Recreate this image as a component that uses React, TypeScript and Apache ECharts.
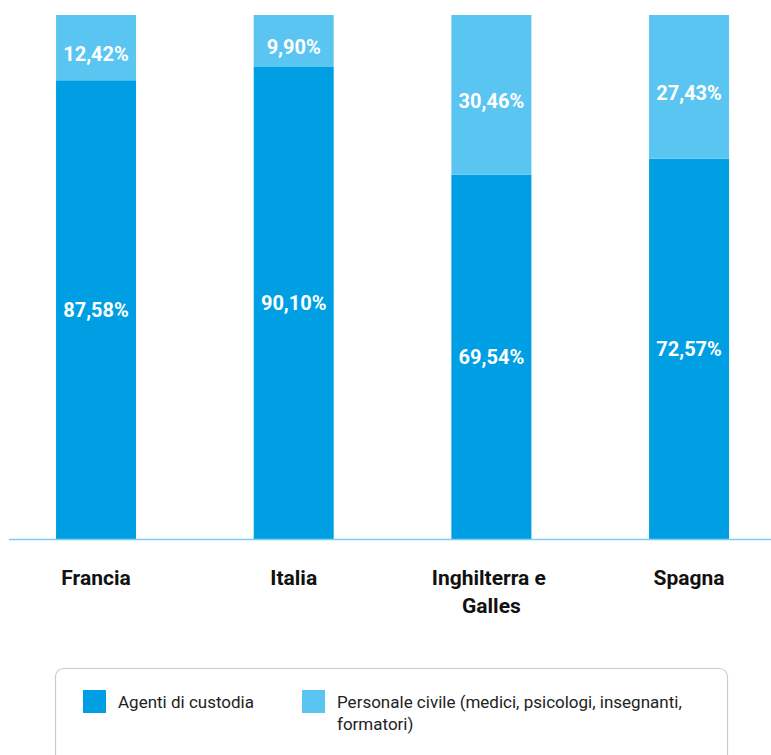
import React, { useEffect, useRef } from "react";
import * as echarts from "echarts";

const categories = ["Francia", "Italia", "Inghilterra e Galles", "Spagna"];
const agenti = [87.58, 90.1, 69.54, 72.57];
const personale = [12.42, 9.9, 30.46, 27.43];
const seriesNames = [
  "Agenti di custodia",
  "Personale civile (medici, psicologi, insegnanti, formatori)",
];
const colors = ["#009fe3", "#5bc5f2"];

const fmt = (v: number) => v.toFixed(2).replace(".", ",") + "%";

// the chart div is shifted left by SHIFT px inside a clipping wrapper
const SHIFT = 10;

export default function App() {
  const ref = useRef<HTMLDivElement>(null);
  useEffect(() => {
    if (!ref.current) return;
    const chart = echarts.init(ref.current, undefined, { renderer: "svg" });
    const labelBase = {
      show: true,
      position: "inside" as const,
      color: "#ffffff",
      fontFamily: "Roboto, sans-serif",
      fontWeight: "bold" as const,
      fontSize: 20,
      formatter: (p: any) => fmt(p.value),
    };
    chart.setOption({
      animation: false,
      grid: { left: SHIFT - 2.8, width: 790.7, top: 15, bottom: 215.5 },
      xAxis: {
        type: "category",
        data: categories,
        axisLine: { show: false },
        axisTick: { show: false },
        axisLabel: {
          color: "#111111",
          fontFamily: "Roboto, sans-serif",
          fontWeight: "bold",
          fontSize: 21,
          lineHeight: 28,
          margin: 24,
          width: 150,
          overflow: "break",
          interval: 0,
        },
      },
      yAxis: { type: "value", min: 0, max: 100, show: false },
      legend: [
        {
          data: [seriesNames[0]],
          left: 83 + SHIFT,
          top: 690,
          icon: "rect",
          itemWidth: 23,
          itemHeight: 23,
          padding: 0,
          textStyle: {
            color: "#222222",
            fontFamily: "Roboto, sans-serif",
            fontSize: 17,
            padding: [0, 0, 0, 7],
          },
        },
        {
          data: [seriesNames[1]],
          left: 302 + SHIFT,
          top: 668.5,
          icon: "rect",
          itemWidth: 23,
          itemHeight: 23,
          padding: 0,
          formatter: () =>
            " \nPersonale civile (medici, psicologi, insegnanti,\nformatori)",
          textStyle: {
            color: "#222222",
            fontFamily: "Roboto, sans-serif",
            fontSize: 17,
            lineHeight: 22,
            padding: [0, 0, 0, 7],
          },
        },
      ],
      graphic: [
        {
          type: "line",
          shape: { x1: 9 + SHIFT, y1: 539.5, x2: 771 + SHIFT, y2: 539.5 },
          style: { stroke: "#7ccdf2", lineWidth: 1.5 },
          z: 10,
        },
        {
          type: "rect",
          shape: { x: 55.5 + SHIFT, y: 668.5, width: 672, height: 130, r: 8 },
          style: { fill: "none", stroke: "#cccccc", lineWidth: 1.2 },
        },
      ],
      series: [
        {
          name: seriesNames[0],
          type: "bar",
          stack: "total",
          barWidth: 80,
          data: agenti,
          itemStyle: { color: colors[0] },
          label: labelBase,
        },
        {
          name: seriesNames[1],
          type: "bar",
          stack: "total",
          barWidth: 80,
          data: personale,
          itemStyle: { color: colors[1] },
          label: { ...labelBase, offset: [0, 6] },
        },
      ],
    });
    return () => chart.dispose();
  }, []);
  return (
    <div
      style={{
        position: "absolute",
        left: 0,
        top: 0,
        width: 771,
        height: 755,
        overflow: "hidden",
      }}
    >
      <div
        ref={ref}
        style={{
          position: "absolute",
          left: -SHIFT,
          top: 0,
          width: 771 + 3 * SHIFT,
          height: 755,
        }}
      />
    </div>
  );
}
